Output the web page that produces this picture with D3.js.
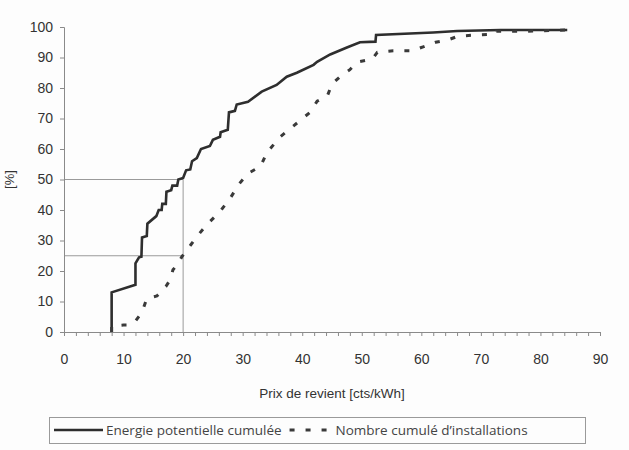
<!DOCTYPE html>
<html>
<head>
<meta charset="utf-8">
<script src="https://cdn.jsdelivr.net/npm/d3@7"></script>
<style>
  body { margin: 0; background: #fdfdfd; }
  svg { display: block; }
</style>
</head>
<body>
<svg id="chart"></svg>
<script>
// cumulative potential energy [%] vs cost price
const energyX = [8, 8, 12, 12, 12.6, 13, 13.1, 13.9, 14, 15.5, 15.9, 16.4, 16.5, 17.1, 17.2, 18, 18.2, 19, 19.2, 20, 20.5, 21.2, 21.5, 22.3, 23, 24.5, 25, 26.2, 26.3, 27.5, 27.7, 28.7, 29, 30.9, 33.2, 35.7, 37.4, 39.1, 41.9, 42.5, 44.7, 47.5, 49.7, 52.3, 52.4, 62, 66, 73.3, 84.5];
const energyY = [0, 13, 15.5, 22.5, 24.5, 24.7, 31, 31.5, 35.5, 38, 40, 40, 42, 42, 46, 46.5, 48, 48, 50, 50.5, 53, 53.3, 56, 57, 60, 61, 63, 64, 65.5, 66.3, 72, 72.5, 74.6, 75.5, 78.8, 81, 83.7, 85, 87.6, 88.6, 91, 93.3, 95, 95.2, 97.4, 98.2, 98.7, 99, 99];
// cumulative number of installations [%]
const countX = [8, 8, 10, 11, 12, 13, 13.4, 13.9, 15.6, 17.1, 17.8, 18.3, 19, 19.8, 21.3, 22.3, 24, 26.2, 27.9, 29.3, 30.9, 33, 34.1, 36.3, 38.5, 41.3, 42.5, 44.2, 45, 46.4, 48, 49.2, 51.8, 52.6, 55.3, 58.5, 60.3, 62.4, 64.5, 66.2, 69.4, 72.4, 72.6, 77.8, 84.5];
const countY = [0, 2, 2.3, 2.3, 3.6, 6.2, 8.2, 11, 11.8, 14.9, 17, 20.4, 22, 24.7, 28.6, 31.3, 35.2, 39.5, 43.8, 48.3, 52, 54.3, 58.9, 64, 67.5, 72, 75.7, 77.3, 81.3, 83.8, 86, 88.5, 89.5, 91.7, 92.2, 92.2, 93.5, 95, 95.8, 97, 97.4, 97.7, 98.6, 98.6, 99];
// reading guides (price 20 -> 50 % of energy, 25 % of installations)
const guideX = 20;
const guideLevels = [50, 25];
const xTicks = d3.range(0, 91, 2);
const yTicks = d3.range(0, 101, 10);
const seriesNames = ["Energie potentielle cumulée", "Nombre cumulé d\u2019installations"];

const width = 629, height = 450;
const ink = "#333";

const svg = d3.select("#chart")
  .attr("width", width)
  .attr("height", height);

const x = d3.scaleLinear().domain([0, 90]).range([64, 600]);
const y = d3.scaleLinear().domain([0, 100]).range([332, 27]);

// guide lines
const guides = svg.append("g")
  .attr("stroke", "#9a9a9a")
  .attr("stroke-width", 1);
guideLevels.forEach(v => {
  guides.append("line")
    .attr("x1", x(0)).attr("x2", x(guideX))
    .attr("y1", y(v)).attr("y2", y(v));
});
guides.append("line")
  .attr("x1", x(guideX)).attr("x2", x(guideX))
  .attr("y1", y(0)).attr("y2", y(d3.max(guideLevels)));

// axes
const xAxis = d3.axisBottom(x)
  .tickValues(xTicks)
  .tickSize(4)
  .tickPadding(18)
  .tickFormat(d => d % 10 === 0 ? d : "");
const yAxis = d3.axisLeft(y)
  .tickValues(yTicks)
  .tickSize(4)
  .tickPadding(7);

const gx = svg.append("g")
  .attr("transform", `translate(0,${y(0)})`)
  .call(xAxis);
const gy = svg.append("g")
  .attr("transform", `translate(${x(0)},0)`)
  .call(yAxis);

[gx, gy].forEach(g => {
  g.select(".domain").attr("stroke", "#8a8a8a");
  g.selectAll(".tick line").attr("stroke", "#8a8a8a");
  g.selectAll(".tick text")
    .attr("fill", ink)
    .style("font-family", "'Liberation Sans', Arial, sans-serif")
    .style("font-size", "14px");
});

// series
const line = d3.line().x(d => x(d[0])).y(d => y(d[1]));
svg.append("path")
  .datum(d3.zip(energyX, energyY))
  .attr("d", line)
  .attr("fill", "none")
  .attr("stroke", "#2e2e2e")
  .attr("stroke-width", 2.6);
svg.append("path")
  .datum(d3.zip(countX, countY))
  .attr("d", line)
  .attr("fill", "none")
  .attr("stroke", "#3a3a3a")
  .attr("stroke-width", 3)
  .attr("stroke-dasharray", "5,11");

// axis titles
svg.append("text")
  .attr("x", (x(0) + x(90)) / 2)
  .attr("y", 398)
  .attr("text-anchor", "middle")
  .attr("fill", ink)
  .style("font-family", "'Liberation Sans', Arial, sans-serif")
  .style("font-size", "13.5px")
  .text("Prix de revient [cts/kWh]");
svg.append("text")
  .attr("transform", `translate(14,${y(50)}) rotate(-90)`)
  .attr("text-anchor", "middle")
  .attr("fill", ink)
  .style("font-family", "'Liberation Sans', Arial, sans-serif")
  .style("font-size", "13px")
  .text("[%]");

// legend
const legend = svg.append("g");
legend.append("rect")
  .attr("x", 49.5).attr("y", 417.5)
  .attr("width", 536).attr("height", 26)
  .attr("fill", "none")
  .attr("stroke", "#9a9a9a");
const ly = 430;
legend.append("line")
  .attr("x1", 54).attr("x2", 103)
  .attr("y1", ly).attr("y2", ly)
  .attr("stroke", "#2e2e2e").attr("stroke-width", 2.6);
const t1 = legend.append("text")
  .attr("x", 106).attr("y", ly + 5)
  .attr("fill", "#444")
  .style("font-family", "'Open Sans', sans-serif")
  .style("font-size", "13.5px")
  .text(seriesNames[0]);
const e1 = 106 + t1.node().getComputedTextLength();
legend.append("line")
  .attr("x1", e1 + 8).attr("x2", e1 + 50)
  .attr("y1", ly).attr("y2", ly)
  .attr("stroke", "#3a3a3a").attr("stroke-width", 3)
  .attr("stroke-dasharray", "5,11");
legend.append("text")
  .attr("x", e1 + 54).attr("y", ly + 5)
  .attr("fill", "#444")
  .style("font-family", "'Open Sans', sans-serif")
  .style("font-size", "13.5px")
  .text(seriesNames[1]);
</script>
</body>
</html>
